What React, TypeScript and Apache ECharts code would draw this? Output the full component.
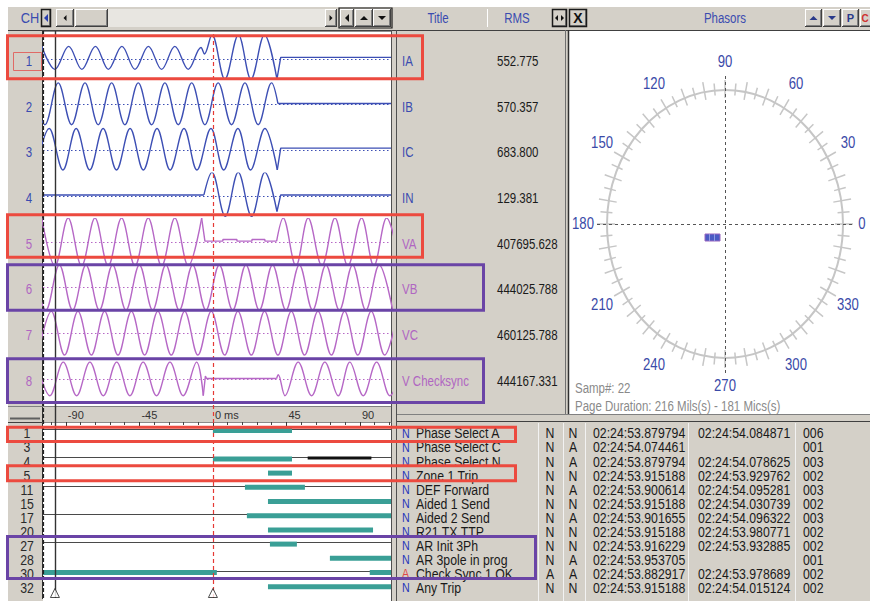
import React, { useEffect, useRef } from "react";
import * as echarts from "echarts";

// ---------------- data ----------------
const TIME_MIN = -104;
const TIME_MAX = 109;
const RULER_LABEL_TIMES = [-90, -45, 0, 45, 90];
const RULER_MINOR_TIMES = [-99, -81, -72, -63, -54, -36, -27, -18, -9, 9, 18, 27, 36, 54, 63, 72, 81, 99, 108];
const CURSOR_DASHED_TIME = -103.8;
const CURSOR_SOLID_TIME = -96.7;
const TRIGGER_TIME = 0;
const MARKER_TIMES = [-96.7, 0];

const CH_NUMBERS = ["1", "2", "3", "4", "5", "6", "7", "8"];
const CH_TITLES = ["IA", "IB", "IC", "IN", "VA", "VB", "VC", "V Checksync"];
const CH_RMS = ["552.775", "570.357", "683.800", "129.381", "407695.628", "444025.788", "460125.788", "444167.331"];
const CH_KIND = ["I", "I", "I", "I", "V", "V", "V", "V"];

// waveform extremes: [ms, normalised value]
const IA_WAVE = [[-104.8, 0.55], [-96.7, -0.45], [-88.3, 0.55], [-80.2, -0.45], [-71.9, 0.55], [-64.0, -0.45], [-55.7, 0.55], [-47.7, -0.45], [-39.5, 0.55], [-31.4, -0.45], [-23.3, 0.55], [-15.1, -0.45], [-7.3, 0.5], [-5.2, 0.22], [-0.6, 1.05], [7.3, -0.88], [15.6, 1.05], [23.3, -0.88], [31.5, 1.05], [39.2, -0.88]];
const IA_STEP = [[39.2, -0.88], [41.5, 0.07], [109, 0.07]];

const IB_WAVE = [[-110.9, 0.95], [-102.8, -0.87], [-94.7, 0.95], [-86.5, -0.87], [-78.3, 0.95], [-70.2, -0.87], [-62.0, 0.95], [-53.9, -0.87], [-45.7, 0.95], [-37.5, -0.87], [-29.4, 0.95], [-21.2, -0.87], [-13.0, 0.95], [-4.9, -0.87], [3.2, 0.95], [11.4, -0.87], [19.6, 0.95], [27.7, -0.87], [35.9, 0.95], [39.8, 0.05]];
const IB_STEP = [[39.8, 0.05], [109, 0.05]];

const IC_WAVE = [[-108.5, -0.85], [-100.2, 0.95], [-91.8, -0.85], [-83.7, 0.95], [-75.4, -0.85], [-67.2, 0.95], [-59.0, -0.85], [-50.7, 0.95], [-42.6, -0.85], [-34.2, 0.95], [-26.2, -0.85], [-17.7, 0.95], [-9.8, -0.85], [-1.2, 0.95], [6.6, -0.85], [15.3, 0.95], [23.0, -0.85], [31.8, 0.95], [39.4, -0.85]];
const IC_STEP = [[39.4, -0.85], [41.5, 0.1], [109, 0.1]];

const IN_STEP_PRE = [[-104, 0.05], [-5.5, 0.05]];
const IN_WAVE = [[-5.5, 0.05], [-0.6, 1.03], [7.5, -0.88], [15.5, 1.03], [23.7, -0.88], [31.8, 1.03], [39.2, -0.67]];
const IN_STEP_POST = [[39.2, -0.67], [41.5, 0.05], [109, 0.05]];

const VA_WAVE_PRE = [[-104.8, 1.03], [-96.7, -1.05], [-88.6, 1.03], [-80.4, -1.05], [-72.2, 1.03], [-64.1, -1.05], [-55.9, 1.03], [-47.7, -1.05], [-39.6, 1.03], [-31.4, -1.05], [-23.3, 1.03], [-15.1, -1.05], [-6.9, 1.03]];
const VA_STEP = [[-6.9, 1.03], [-4.9, 0.03], [6.1, 0.03], [6.1, 0.1], [14.7, 0.1], [14.7, 0.03], [23.9, 0.03], [23.9, 0.1], [31.8, 0.1], [31.8, 0.03], [39.0, 0.03]];
const VA_WAVE_POST = [[39.0, 0.03], [43.0, 1.03], [50.8, -1.05], [58.3, 1.03], [66.7, -1.05], [74.7, 1.03], [82.6, -1.05], [91.0, 1.03], [98.5, -1.05], [106.3, 1.03], [114.5, -1.05]];

const VB_WAVE = [[-110.3, 0.98], [-102.2, -0.98], [-94.0, 0.98], [-85.9, -0.98], [-77.7, 0.98], [-69.5, -0.98], [-61.4, 0.98], [-53.2, -0.98], [-45.0, 0.98], [-36.9, -0.98], [-28.8, 0.98], [-20.6, -0.98], [-12.4, 0.98], [-4.3, -0.98], [3.9, 0.98], [12.1, -0.98], [20.2, 0.98], [28.4, -0.98], [36.5, 0.98], [44.7, -0.98], [52.9, 0.98], [61.0, -0.98], [69.2, 0.98], [77.4, -0.98], [85.5, 0.98], [93.6, -0.98], [101.8, 0.98], [110.0, -0.98]];

const VC_WAVE = [[-107.1, -0.95], [-98.9, 0.95], [-90.8, -0.95], [-82.6, 0.95], [-74.4, -0.95], [-66.3, 0.95], [-58.1, -0.95], [-49.9, 0.95], [-41.8, -0.95], [-33.7, 0.95], [-25.5, -0.95], [-17.3, 0.95], [-9.2, -0.95], [-1.0, 0.95], [7.2, -0.95], [15.3, 0.95], [23.5, -0.95], [31.6, 0.95], [39.8, -0.95], [48.0, 0.95], [56.1, -0.95], [64.3, 0.95], [72.5, -0.95], [80.6, 0.95], [88.7, -0.95], [96.9, 0.95], [105.1, -0.95], [113.2, 0.95]];

const VCS_WAVE_PRE = [[-107.9, 0.73], [-99.8, -0.73], [-91.6, 0.73], [-83.4, -0.73], [-75.3, 0.73], [-67.1, -0.73], [-58.9, 0.73], [-50.8, -0.73], [-42.7, 0.73], [-34.5, -0.73], [-26.3, 0.73], [-18.2, -0.73], [-10.0, 0.73], [-5.9, -0.73]];
const VCS_STEP = [[-5.9, -0.73], [-4.6, 0.12], [-3.9, 0.02], [39.0, 0.02]];
const VCS_WAVE_POST = [[39.0, 0.02], [40.0, 0.18], [44.1, -0.73], [52.2, 0.73], [60.4, -0.73], [68.5, 0.73], [76.7, -0.73], [83.8, 0.73], [92.0, -0.73], [100.2, 0.73], [108.3, -0.73], [116.5, 0.73]];

const CHANNEL_SMOOTH = [[IA_WAVE], [IB_WAVE], [IC_WAVE], [IN_WAVE], [VA_WAVE_PRE, VA_WAVE_POST], [VB_WAVE], [VC_WAVE], [VCS_WAVE_PRE, VCS_WAVE_POST]];
const CHANNEL_STEP = [[IA_STEP], [IB_STEP], [IC_STEP], [IN_STEP_PRE, IN_STEP_POST], [VA_STEP], [], [], [VCS_STEP]];

// digital channels
const DIG_NUMBERS = ["1", "3", "4", "5", "11", "15", "17", "20", "27", "28", "30", "32"];
const DIG_NAMES = ["Phase Select A", "Phase Select C", "Phase Select N", "Zone 1 Trip", "DEF Forward", "Aided 1 Send", "Aided 2 Send", "R21 TX TTP", "AR Init 3Ph", "AR 3pole in prog", "Check Sync 1 OK", "Any Trip"];
const DIG_STATE_1 = ["N", "N", "N", "N", "N", "N", "N", "N", "N", "N", "A", "N"];
const DIG_STATE_2 = ["N", "A", "A", "N", "A", "N", "A", "N", "N", "A", "A", "N"];
const DIG_TIME_1 = ["02:24:53.879794", "02:24:54.074461", "02:24:53.879794", "02:24:53.915188", "02:24:53.900614", "02:24:53.915188", "02:24:53.901655", "02:24:53.915188", "02:24:53.916229", "02:24:53.953705", "02:24:53.882917", "02:24:53.915188"];
const DIG_TIME_2 = ["02:24:54.084871", "", "02:24:54.078625", "02:24:53.929762", "02:24:54.095281", "02:24:54.030739", "02:24:54.096322", "02:24:53.980771", "02:24:53.932885", "", "02:24:53.978689", "02:24:54.015124"];
const DIG_COUNT = ["006", "001", "003", "002", "003", "002", "003", "002", "002", "001", "002", "002"];
// [row, start ms, end ms]
const DIG_ACTIVE = [[0, 0, 48.4], [2, 0, 48.4], [3, 33.7, 48.4], [4, 19.6, 56.3], [5, 33.7, 109], [6, 20.8, 109], [7, 33.7, 98], [8, 34.9, 51.4], [9, 71.6, 109], [10, -104, 2.4], [10, 96, 109], [11, 33.7, 109]];
const DIG_OTHER = [[2, 58, 97]];

const PHASOR_LABELS = [0, 30, 60, 90, 120, 150, 180, 210, 240, 270, 300, 330];
const SAMPLE_TEXT = "Samp#: 22";
const DURATION_TEXT = "Page Duration: 216 Mils(s) - 181 Mics(s)";

// ---------------- style / layout ----------------
const GRAY = "#d4d0c8";
const BLUE = "#3d4fb4";
const PURPLE = "#b668c6";
const BLUE_TXT = "#3a4bb0";
const PURPLE_TXT = "#b066c2";
const TEAL = "#3a9f96";
const RED_BOX = "#ec4a3f";
const PURPLE_BOX = "#6a44a6";
const FONT = "'Liberation Sans', Arial, sans-serif";
const SX = 0.82;
const PLOT_L = 43;
const PLOT_W = 348;
const ROW0 = 59;
const ROW_STEP = 45.7;
const HALF = 23;
const DIG_TOP = 429;
const DIG_H = 156.2;

function R(x: number, y: number, w: number, h: number, fill: string, z = -10, stroke?: string, lw = 1): any {
  return { type: "rect", silent: true, z, shape: { x, y, width: w, height: h }, style: { fill, stroke: stroke || null, lineWidth: lw } };
}
function L(x1: number, y1: number, x2: number, y2: number, color: string, w = 1, z = -5, dash?: number[]): any {
  return { type: "line", silent: true, z, shape: { x1, y1, x2, y2 }, style: { stroke: color, lineWidth: w, lineDash: dash || null } };
}
function T(x: number, y: number, text: string, size: number, color: string, align = "left", sx = SX, weight = "normal"): any {
  return {
    type: "text", silent: true, z: 20, x, y, scaleX: sx,
    style: { text, x: 0, y: 0, fill: color, fontSize: size, fontFamily: FONT, fontWeight: weight, align, textAlign: align, verticalAlign: "middle", textVerticalAlign: "middle" },
  };
}
function tri(cx: number, cy: number, dir: string, s: number, color: string): any {
  let pts: number[][];
  if (dir === "left") pts = [[cx + s / 2, cy - s], [cx + s / 2, cy + s], [cx - s / 2, cy]];
  else if (dir === "right") pts = [[cx - s / 2, cy - s], [cx - s / 2, cy + s], [cx + s / 2, cy]];
  else if (dir === "up") pts = [[cx - s, cy + s / 2], [cx + s, cy + s / 2], [cx, cy - s / 2]];
  else pts = [[cx - s, cy - s / 2], [cx + s, cy - s / 2], [cx, cy + s / 2]];
  return { type: "polygon", silent: true, z: 5, shape: { points: pts }, style: { fill: color } };
}
function btn(x: number, y: number, w: number, h: number, pressed = false): any[] {
  const out = [
    R(x, y, w, h, GRAY, -4),
    L(x + 0.5, y + h, x + 0.5, y, "#ffffff", 1, -3),
    L(x, y + 0.5, x + w, y + 0.5, "#ffffff", 1, -3),
    L(x + w - 0.5, y, x + w - 0.5, y + h, "#404040", 1, -3),
    L(x, y + h - 0.5, x + w, y + h - 0.5, "#404040", 1, -3),
    L(x + w - 1.5, y + 1, x + w - 1.5, y + h - 1, "#808080", 1, -3),
    L(x + 1, y + h - 1.5, x + w - 1, y + h - 1.5, "#808080", 1, -3),
  ];
  if (pressed) out.push(R(x + 0.5, y + 0.5, w - 1, h - 1, "none", -2, "#1a1a1a", 1.5));
  return out;
}

function buildGraphic(): any[] {
  const g: any[] = [];
  // panels
  g.push(R(8, 7, 862, 23, GRAY));
  g.push(R(8, 30, 35, 571, GRAY));
  g.push(R(43, 31, 348, 376, "#ffffff"));
  g.push(R(391, 30, 6, 571, GRAY));
  g.push(R(397, 30, 168, 385, GRAY));
  g.push(R(565, 30, 4, 385, GRAY));
  g.push(R(569, 31, 301, 383, "#ffffff"));
  g.push(R(8, 407, 383, 16, GRAY));
  g.push(R(43, 423, 348, 176, "#ffffff"));
  g.push(R(397, 414, 473, 187, GRAY));
  // frame lines
  g.push(L(8, 30.5, 870, 30.5, "#404040", 1));
  g.push(L(42.5, 31, 42.5, 599, "#303030", 1));
  g.push(L(391.5, 30, 391.5, 601, "#505050", 1));
  g.push(L(396.5, 30, 396.5, 601, "#505050", 1));
  g.push(L(565.5, 30, 565.5, 414, "#707070", 1));
  g.push(L(568.5, 30, 568.5, 414, "#303030", 1.5));
  g.push(L(397, 414.5, 870, 414.5, "#808080", 1));
  g.push(L(397, 421.5, 870, 421.5, "#404040", 1));
  g.push(L(8, 406.5, 391, 406.5, "#808080", 1));
  g.push(L(8, 422.5, 391, 422.5, "#404040", 1));
  g.push(L(43, 31.5, 391, 31.5, "#909090", 1));
  g.push(L(10, 418.5, 40, 418.5, "#606060", 2));
  [538, 563, 585, 688, 795].forEach((x) => g.push(L(x + 0.5, 423, x + 0.5, 601, "#f2f2f2", 1)));
  g.push(L(487.5, 9, 487.5, 27, "#ffffff", 1));

  // toolbar
  g.push(T(30, 18, "CH", 15, BLUE_TXT, "center", 0.85));
  g.push(R(108, 9, 217, 18, "#e8e6e1", -6));
  g.push(...btn(41, 9, 10, 18, true), tri(46, 18, "left", 4, "#2a3fb0"));
  g.push(...btn(56, 9, 18, 18), tri(65, 18, "left", 3, "#111"));
  g.push(...btn(75, 9, 33, 18));
  g.push(...btn(325, 9, 12, 18), tri(331, 18, "right", 3, "#111"));
  g.push(R(339, 8, 53, 20, "none", -2, "#1a1a1a", 1.2));
  g.push(...btn(340, 9, 14, 18), tri(347, 18, "left", 4, "#111"));
  g.push(...btn(355, 9, 18, 18), tri(364, 18, "up", 4, "#111"));
  g.push(...btn(373, 9, 18, 18), tri(382, 18, "down", 4, "#111"));
  g.push(T(438, 18, "Title", 14, BLUE_TXT, "center"));
  g.push(T(517, 18, "RMS", 14, BLUE_TXT, "center"));
  g.push(...btn(552, 9, 15, 18, true), tri(556.5, 18, "left", 3, "#111"), tri(562.5, 18, "right", 3, "#111"));
  g.push(...btn(569, 9, 18, 18, true), T(578, 18, "X", 14, "#111", "center", 1, "bold"));
  g.push(T(725, 18, "Phasors", 14, BLUE_TXT, "center"));
  g.push(...btn(805, 9, 17, 18), tri(813.5, 18, "up", 4, "#2a3a8a"));
  g.push(...btn(823, 9, 18, 18), tri(832, 18, "down", 4, "#2a3a8a"));
  g.push(...btn(842, 9, 17, 18), T(850.5, 18, "P", 11, "#2a3a8a", "center", 1, "bold"));
  g.push(...btn(860, 9, 17, 18), T(865, 18, "C", 10, "#d03030", "center", 1, "bold"));

  // analog labels
  for (let i = 0; i < 8; i++) {
    const cy = ROW0 + ROW_STEP * i + 2;
    const col = CH_KIND[i] === "I" ? BLUE_TXT : PURPLE_TXT;
    g.push(T(29, cy, CH_NUMBERS[i], 14, col, "center"));
    g.push(T(402, cy, CH_TITLES[i], 14, col, "left"));
    g.push(T(497, cy, CH_RMS[i], 14, "#1a1a1a", "left"));
  }
  g.push(R(13.5, 52.5, 28, 18, "none", 10, "#e06a66", 1));

  // digital labels & table
  for (let i = 0; i < DIG_NUMBERS.length; i++) {
    const y = 433.5 + 14.05 * i;
    g.push(T(27, y, DIG_NUMBERS[i], 15, "#2a2a2a", "center"));
    const flagCol = DIG_STATE_1[i] === "A" ? "#e04545" : "#2233bb";
    g.push(T(402, y, DIG_STATE_1[i], 13, flagCol, "left"));
    g.push(T(416, y, DIG_NAMES[i], 15, "#1a1a1a", "left"));
    g.push(T(550, y, DIG_STATE_1[i], 15, "#1a1a1a", "center"));
    g.push(T(573, y, DIG_STATE_2[i], 15, "#1a1a1a", "center"));
    g.push(T(593, y, DIG_TIME_1[i], 15, "#1a1a1a", "left"));
    if (DIG_TIME_2[i]) g.push(T(698, y, DIG_TIME_2[i], 15, "#1a1a1a", "left"));
    g.push(T(803, y, DIG_COUNT[i], 15, "#1a1a1a", "left"));
  }

  // phasor diagram
  const cx = 725, cy = 224, rx = 118, ry = 134, lrx = 142, lry = 162;
  g.push({ type: "ellipse", silent: true, z: 3, shape: { cx, cy, rx, ry }, style: { fill: "none", stroke: "#c6c6c6", lineWidth: 2 } });
  for (let a = 0; a < 360; a += 5) {
    const r = (a * Math.PI) / 180;
    const px = cx + rx * Math.cos(r), py = cy - ry * Math.sin(r);
    const ux = Math.cos(r), uy = -Math.sin(r);
    const dOut = a % 10 === 0 ? 10 : 7, dIn = a % 10 === 0 ? 8 : 5;
    g.push({ type: "line", silent: true, z: 3, shape: { x1: px - ux * dIn, y1: py - uy * dIn, x2: px + ux * dOut, y2: py + uy * dOut }, style: { stroke: "#c6c6c6", lineWidth: 1.5 } });
  }
  g.push(L(cx + 0.5, 76, cx + 0.5, 373, "#555", 1, 4, [3, 3]));
  g.push(L(597, cy + 0.5, 853, cy + 0.5, "#555", 1, 4, [3, 3]));
  PHASOR_LABELS.forEach((a) => {
    const r = (a * Math.PI) / 180;
    const x = Math.min(cx + lrx * Math.cos(r), 862);
    g.push(T(x, cy - lry * Math.sin(r), String(a), 16, "#3a4aa8", "center"));
  });
  g.push(R(705, 234, 15, 7, "#4a5bc4", 6, "#9a66c0", 1));
  g.push(L(709.5, 234, 709.5, 241, "#8f9be0", 1, 7));
  g.push(L(714.5, 234, 714.5, 241, "#8f9be0", 1, 7));
  g.push(T(575, 388, SAMPLE_TEXT, 14, "#8a8a8a", "left"));
  g.push(T(575, 406, DURATION_TEXT, 14, "#8a8a8a", "left"));

  // annotation boxes
  const box = (x: number, y: number, w: number, h: number, c: string) => ({ type: "rect", silent: true, z: 100, shape: { x, y, width: w, height: h }, style: { fill: "none", stroke: c, lineWidth: 3 } });
  g.push(box(7.5, 35.8, 415, 43, RED_BOX));
  g.push(box(7.5, 214.8, 415, 42.5, RED_BOX));
  g.push(box(7.5, 264.8, 476, 45.5, PURPLE_BOX));
  g.push(box(7.5, 358.8, 476, 43.7, PURPLE_BOX));
  g.push(box(7.5, 427.2, 508, 14.3, RED_BOX));
  g.push(box(7.5, 465.8, 508, 15, RED_BOX));
  g.push(box(7.5, 536.5, 528, 42, PURPLE_BOX));
  return g;
}

function buildOption(): any {
  const grid: any[] = [];
  const xAxis: any[] = [];
  const yAxis: any[] = [];
  const series: any[] = [];

  for (let i = 0; i < 8; i++) {
    const c = ROW0 + ROW_STEP * i;
    grid.push({ left: PLOT_L, width: PLOT_W, top: c - HALF, height: 2 * HALF, show: false });
    xAxis.push({ gridIndex: i, type: "value", min: TIME_MIN, max: TIME_MAX, show: false });
    yAxis.push({ gridIndex: i, type: "value", min: -1, max: 1, show: false });
    const color = CH_KIND[i] === "I" ? BLUE : PURPLE;
    CHANNEL_SMOOTH[i].forEach((seg, k) => {
      series.push({
        type: "line", xAxisIndex: i, yAxisIndex: i, data: seg, smooth: 0.36, symbol: "none", showSymbol: false, silent: true,
        lineStyle: { color, width: 1.4 },
        markLine: k === 0 ? { silent: true, symbol: "none", label: { show: false }, lineStyle: { color, type: [1.5, 2.5], width: 1 }, data: [{ yAxis: 0 }] } : undefined,
      });
    });
    CHANNEL_STEP[i].forEach((seg) => {
      series.push({ type: "line", xAxisIndex: i, yAxisIndex: i, data: seg, smooth: false, symbol: "none", showSymbol: false, silent: true, lineStyle: { color, width: 1.4 } });
    });
  }

  // grid 8: ruler major ticks + labels
  grid.push({ left: PLOT_L, width: PLOT_W, top: 407, height: 15, show: false });
  xAxis.push({
    gridIndex: 8, type: "value", min: TIME_MIN, max: TIME_MAX, position: "top",
    axisLine: { show: true, lineStyle: { color: "#8a8a8a", width: 1 } },
    axisTick: { show: true, inside: true, length: 6, customValues: RULER_LABEL_TIMES, lineStyle: { color: "#333" } },
    axisLabel: { show: true, inside: true, customValues: RULER_LABEL_TIMES, margin: 2, align: "left", verticalAlign: "top", padding: [0, 0, 0, 2], fontSize: 11, color: "#333", fontFamily: FONT, formatter: (v: number) => (v === 0 ? "0 ms" : String(v)) },
    splitLine: { show: false },
  });
  yAxis.push({ gridIndex: 8, type: "value", min: 0, max: 1, show: false });

  // grid 9: ruler minor ticks
  grid.push({ left: PLOT_L, width: PLOT_W, top: 407, height: 15, show: false });
  xAxis.push({
    gridIndex: 9, type: "value", min: TIME_MIN, max: TIME_MAX, position: "top",
    axisLine: { show: false },
    axisTick: { show: true, inside: true, length: 3, customValues: RULER_MINOR_TIMES, lineStyle: { color: "#444" } },
    axisLabel: { show: false },
    splitLine: { show: false },
  });
  yAxis.push({ gridIndex: 9, type: "value", min: 0, max: 1, show: false });

  // grid 10: digital channels
  grid.push({ left: PLOT_L, width: PLOT_W, top: DIG_TOP, height: DIG_H, show: false });
  xAxis.push({ gridIndex: 10, type: "value", min: TIME_MIN, max: TIME_MAX, show: false });
  yAxis.push({
    gridIndex: 10, type: "category", data: DIG_NUMBERS, inverse: true, boundaryGap: false,
    axisLine: { show: false }, axisTick: { show: false }, axisLabel: { show: false },
    splitLine: { show: true, lineStyle: { color: "#4a4a4a", width: 1 } },
  });
  const digData = DIG_ACTIVE.map((d) => [d[0], d[1], d[2], 0]).concat(DIG_OTHER.map((d) => [d[0], d[1], d[2], 1]));
  series.push({
    type: "custom", xAxisIndex: 10, yAxisIndex: 10, data: digData, encode: { x: [1, 2], y: 0 }, silent: true,
    renderItem: (params: any, api: any) => {
      const row = api.value(0);
      const t0 = Math.max(api.value(1), TIME_MIN);
      const t1 = Math.min(api.value(2), TIME_MAX);
      const kind = api.value(3);
      const p0 = api.coord([t0, row]);
      const p1 = api.coord([t1, row]);
      const h = kind === 1 ? 3 : 5;
      const off = kind === 1 ? 0.5 : 1.5;
      return { type: "rect", shape: { x: p0[0], y: p0[1] + off - h / 2, width: p1[0] - p0[0], height: h }, style: { fill: kind === 1 ? "#111" : TEAL } };
    },
  });

  // grid 11: cursor overlay over the whole trace area
  grid.push({ left: PLOT_L, width: PLOT_W, top: 31, height: 567, show: false });
  xAxis.push({ gridIndex: 11, type: "value", min: TIME_MIN, max: TIME_MAX, show: false });
  yAxis.push({ gridIndex: 11, type: "value", min: 0, max: 1, show: false });
  series.push({
    type: "scatter", xAxisIndex: 11, yAxisIndex: 11, silent: true, z: 5,
    data: MARKER_TIMES.map((t) => [t, 0]),
    symbol: "triangle", symbolSize: [9, 9], symbolOffset: [0, -5],
    itemStyle: { color: "#ffffff", borderColor: "#222", borderWidth: 1 },
    markLine: {
      silent: true, symbol: "none", label: { show: false },
      data: [
        { xAxis: TRIGGER_TIME, lineStyle: { color: "#e53935", type: [4, 3], width: 1.2 } },
        { xAxis: CURSOR_DASHED_TIME, lineStyle: { color: "#222", type: [4, 2], width: 1.2 } },
        { xAxis: CURSOR_SOLID_TIME, lineStyle: { color: "#333", type: "solid", width: 1.4 } },
      ],
    },
  });

  return { animation: false, backgroundColor: "#ffffff", grid, xAxis, yAxis, series, graphic: buildGraphic() };
}

export default function App() {
  const ref = useRef<HTMLDivElement>(null);
  useEffect(() => {
    const chart = echarts.init(ref.current as HTMLDivElement, null, { renderer: "svg" });
    chart.setOption(buildOption());
    return () => chart.dispose();
  }, []);
  return <div ref={ref} style={{ position: "fixed", left: 0, top: 0, width: 870, height: 601 }} />;
}
